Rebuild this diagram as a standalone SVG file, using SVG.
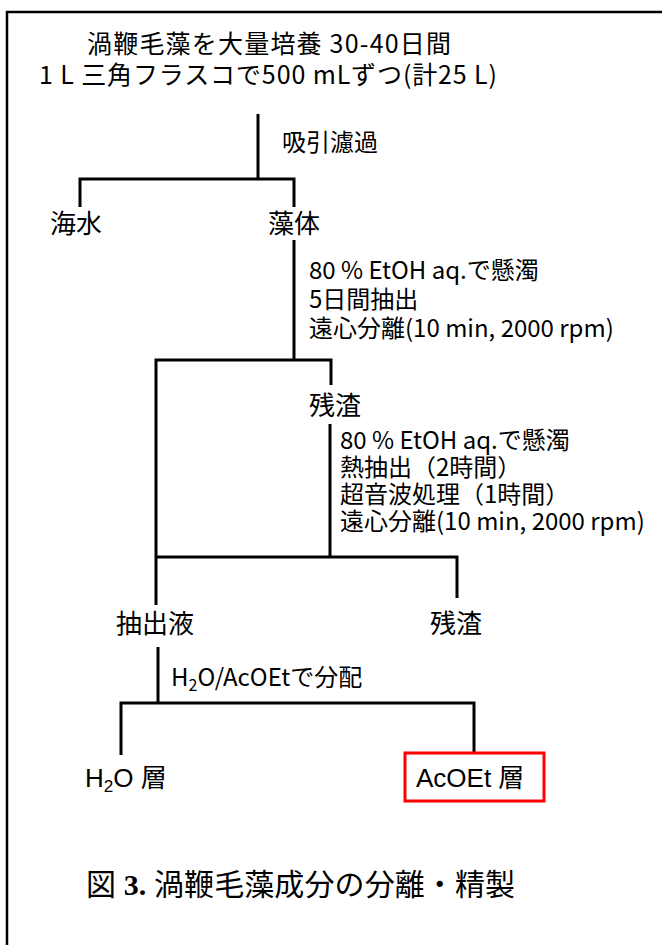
<svg xmlns="http://www.w3.org/2000/svg" width="662" height="945" viewBox="0 0 662 945">
<style>
.t{font-family:'Noto Sans CJK JP','Noto Sans',sans-serif;fill:#000;font-size:24px}
.n{font-size:26px}
.ti{font-size:25px}
.a{font-family:'Liberation Sans','Noto Sans CJK JP',sans-serif;font-size:26px;fill:#000}
.cap{font-family:'Liberation Serif','Noto Sans CJK JP',serif;font-size:30px;fill:#000}
.ln{stroke:#000;stroke-width:3;fill:none;stroke-linecap:butt}
.bd{stroke:#000;stroke-width:2.5;fill:none}
</style>
<rect width="662" height="945" fill="#fff"/>
<g id="frame">
<path class="bd" d="M7,945 V12 H662"/>
</g>
<g id="connectors">
<path class="ln" d="M258,114 V179"/>
<path class="ln" d="M80,207 V179 H294 V207"/>
<path class="ln" d="M294,240 V360"/>
<path class="ln" d="M156,605 V360 H331 V385"/>
<path class="ln" d="M330,424 V557"/>
<path class="ln" d="M156,557 H457 V598"/>
<path class="ln" d="M158,647 V703"/>
<path class="ln" d="M121,755 V703 H474 V753"/>
</g>
<g id="start">
<text class="t ti" x="87" y="53" textLength="364">渦鞭毛藻を大量培養 30-40日間</text>
<text class="t ti" x="39" y="84" textLength="458">1 L 三角フラスコで500 mLずつ(計25 L)</text>
</g>
<g id="step-filtration">
<text class="t" x="282" y="151" font-size="26.5">吸引濾過</text>
</g>
<g id="seawater"><text class="t n" x="50" y="233">海水</text></g>
<g id="algae"><text class="t n" x="268" y="233">藻体</text></g>
<g id="step-extract1">
<text class="t" x="309" y="279">80 % EtOH aq.で懸濁</text>
<text class="t" x="309" y="308">5日間抽出</text>
<text class="t" x="309" y="337">遠心分離(10 min, 2000 rpm)</text>
</g>
<g id="residue1"><text class="t n" x="309" y="415">残渣</text></g>
<g id="step-extract2">
<text class="t" x="340" y="449">80 % EtOH aq.で懸濁</text>
<text class="t" x="340" y="476">熱抽出（2時間）</text>
<text class="t" x="340" y="503">超音波処理（1時間）</text>
<text class="t" x="340" y="530">遠心分離(10 min, 2000 rpm)</text>
</g>
<g id="extract"><text class="t n" x="116" y="633">抽出液</text></g>
<g id="residue2"><text class="t n" x="430" y="633">残渣</text></g>
<g id="step-partition">
<text class="t" x="171" y="686">H<tspan font-size="16" dy="5">2</tspan><tspan dy="-5">O/AcOEtで分配</tspan></text>
</g>
<g id="water-layer">
<text class="a" x="85" y="787">H<tspan font-size="17" dy="5">2</tspan><tspan dy="-5">O 層</tspan></text>
</g>
<g id="acoet-layer">
<rect x="405" y="753" width="139" height="48" fill="none" stroke="#ff0000" stroke-width="3"/>
<text class="a" x="416" y="787">AcOEt 層</text>
</g>
<g id="caption">
<text class="cap" x="86" y="895" textLength="429">図 <tspan font-weight="bold">3.</tspan>  渦鞭毛藻成分の分離・精製</text>
</g>
</svg>
